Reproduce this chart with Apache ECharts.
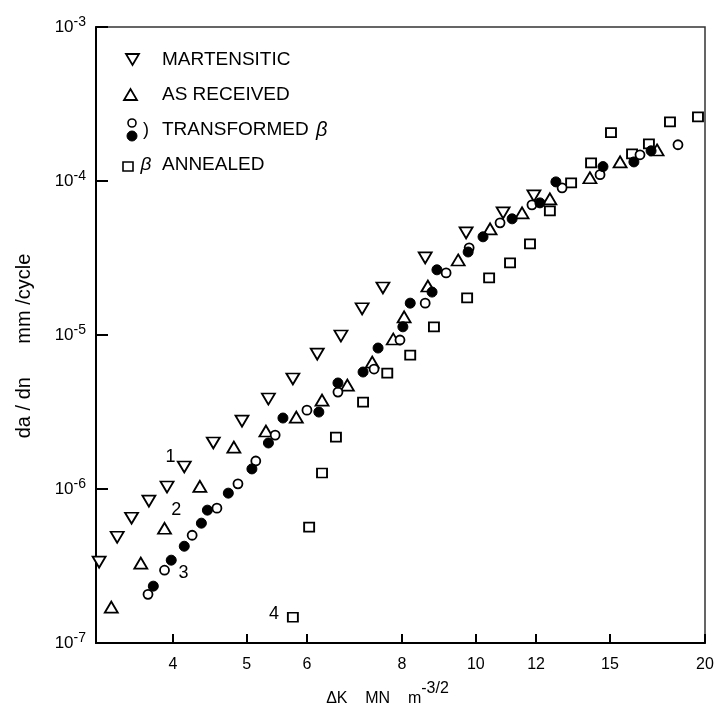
<!DOCTYPE html>
<html>
<head>
<meta charset="utf-8">
<script src="https://cdn.jsdelivr.net/npm/echarts@6/dist/echarts.min.js"></script>
<style>
html,body{margin:0;padding:0;background:#fff;}
#c{width:718px;height:708px;}
</style>
</head>
<body>
<div id="c"></div>
<script>
// ---- data (ΔK in MN m^-3/2, da/dn in mm/cycle) ----
const martensiticK = [3.20,3.38,3.53,3.72,3.93,4.14,4.52,4.93,5.34,5.75,6.19,6.65,7.09,7.55,8.58,9.71,10.86,11.92];
const martensiticRate = [3.35e-7,4.86e-7,6.46e-7,8.34e-7,1.03e-6,1.39e-6,1.99e-6,2.76e-6,3.84e-6,5.18e-6,7.52e-6,9.85e-6,1.48e-5,2.02e-5,3.17e-5,4.60e-5,6.21e-5,8.01e-5];

const asReceivedK = [3.32,3.63,3.90,4.34,4.81,5.30,5.81,6.28,6.78,7.31,7.79,8.05,8.65,9.48,10.44,11.50,12.51,14.12,15.47,17.30];
const asReceivedRate = [1.71e-7,3.30e-7,5.56e-7,1.04e-6,1.87e-6,2.38e-6,2.93e-6,3.78e-6,4.73e-6,6.67e-6,9.42e-6,1.31e-5,2.08e-5,3.07e-5,4.89e-5,6.21e-5,7.66e-5,1.05e-4,1.33e-4,1.59e-4];

const transformedOpenK = [3.71,3.90,4.24,4.57,4.87,5.14,5.45,6.00,6.59,7.35,7.95,8.58,9.14,9.80,10.76,11.85,12.98,14.56,16.43,18.43];
const transformedOpenRate = [2.07e-7,2.97e-7,5.01e-7,7.51e-7,1.08e-6,1.52e-6,2.24e-6,3.25e-6,4.26e-6,6.01e-6,9.28e-6,1.61e-5,2.53e-5,3.68e-5,5.35e-5,7.00e-5,9.03e-5,1.10e-4,1.48e-4,1.72e-4];

const transformedFilledK = [3.77,3.98,4.14,4.36,4.44,4.73,5.08,5.34,5.58,6.22,6.59,7.11,7.44,8.02,8.20,8.76,8.89,9.77,10.22,11.16,12.14,12.74,14.69,16.13,16.99];
const transformedFilledRate = [2.34e-7,3.45e-7,4.25e-7,6.00e-7,7.29e-7,9.40e-7,1.35e-6,1.99e-6,2.89e-6,3.16e-6,4.88e-6,5.75e-6,8.23e-6,1.13e-5,1.61e-5,1.90e-5,2.65e-5,3.46e-5,4.34e-5,5.68e-5,7.21e-5,9.87e-5,1.24e-4,1.33e-4,1.57e-4];

const annealedK = [5.75,6.04,6.28,6.55,7.11,7.65,8.20,8.81,9.74,10.41,11.09,11.78,12.51,13.34,14.17,15.05,16.04,16.88,17.99,19.58];
const annealedRate = [1.47e-7,5.65e-7,1.27e-6,2.17e-6,3.67e-6,5.66e-6,7.41e-6,1.13e-5,1.74e-5,2.35e-5,2.94e-5,3.90e-5,6.40e-5,9.73e-5,1.31e-4,2.06e-4,1.50e-4,1.74e-4,2.42e-4,2.61e-4];

// curve number annotations
const annoK = [3.97,4.04,4.13,5.43];
const annoRate = [1.61e-6,7.29e-7,2.84e-7,1.54e-7];
const annoText = ['1','2','3','4'];

// ticks
const xTickValues = [4,5,6,8,10,12,15,20];
const xTickLabels = ['4','5','6','8','10','12','15','20'];
const yTickValues = [1e-7,1e-6,1e-5,1e-4,1e-3];
const yTickExponents = ['-7','-6','-5','-4','-3'];

// legend
const legendNames = ['MARTENSITIC','AS RECEIVED','TRANSFORMED','ANNEALED'];

const FONT = '"Liberation Sans", Arial, sans-serif';
const INK = '#000';

function pairs(k, r) { return k.map((v, i) => [v, r[i]]); }
function nearestIdx(arr, v) {
  let best = -1, bd = 1e9;
  arr.forEach((t, i) => { const d = Math.abs(Math.log10(t) - Math.log10(v)); if (d < bd) { bd = d; best = i; } });
  return bd < 1e-4 ? best : -1;
}

const openStyle = { color: '#fff', borderColor: INK, borderWidth: 1.8, opacity: 1 };

const chart = echarts.init(document.getElementById('c'));
chart.setOption({
  animation: false,
  backgroundColor: '#fff',
  grid: { left: 96, right: 13, top: 27, bottom: 65, outerBoundsMode: 'none', containLabel: false,
          show: true, borderColor: '#333', borderWidth: 1.5 },
  xAxis: {
    type: 'log', min: 3.17, max: 20,
    axisLine: { show: true, lineStyle: { color: INK, width: 2 } },
    axisTick: { show: true, inside: true, length: 9, lineStyle: { color: INK, width: 2 }, customValues: xTickValues },
    minorTick: { show: false },
    splitLine: { show: false },
    axisLabel: {
      customValues: xTickValues,
      formatter: v => { const i = nearestIdx(xTickValues, v); return i >= 0 ? xTickLabels[i] : ''; },
      color: INK, fontSize: 16, fontFamily: FONT, margin: 14
    },
    name: '{a|ΔK    MN    m}{s|-3/2}',
    nameLocation: 'middle', nameGap: 38,
    nameTextStyle: {
      padding: [0, 26, 0, 0],
      rich: {
        a: { fontSize: 16, fontFamily: FONT, color: INK, lineHeight: 26, verticalAlign: 'bottom' },
        s: { fontSize: 16, fontFamily: FONT, color: INK, lineHeight: 16, verticalAlign: 'top' }
      }
    }
  },
  yAxis: {
    type: 'log', min: 1e-7, max: 1e-3,
    axisLine: { show: true, lineStyle: { color: INK, width: 2 } },
    axisTick: { show: true, inside: true, length: 12, lineStyle: { color: INK, width: 2 }, customValues: yTickValues },
    minorTick: { show: false },
    splitLine: { show: false },
    axisLabel: {
      customValues: yTickValues,
      formatter: v => { const i = nearestIdx(yTickValues, v); return i >= 0 ? '{b|10}{s|' + yTickExponents[i] + '}' : ''; },
      margin: 10,
      rich: {
        b: { fontSize: 17, fontFamily: FONT, color: INK, lineHeight: 24 },
        s: { fontSize: 14, fontFamily: FONT, color: INK, lineHeight: 14, verticalAlign: 'top' }
      }
    },
    name: 'da / dn      mm /cycle',
    nameLocation: 'middle', nameGap: 62,
    nameTextStyle: { fontSize: 20, fontFamily: FONT, color: INK, padding: [0, 22, 0, 0] }
  },
  series: [
    { name: 'ANNEALED', type: 'scatter', symbol: 'rect', symbolSize: [10, 9],
      itemStyle: openStyle, data: pairs(annealedK, annealedRate) },
    { name: 'MARTENSITIC', type: 'scatter', symbol: 'triangle', symbolRotate: 180, symbolSize: [13, 11],
      itemStyle: openStyle, data: pairs(martensiticK, martensiticRate) },
    { name: 'AS RECEIVED', type: 'scatter', symbol: 'triangle', symbolSize: [13, 11],
      itemStyle: openStyle, data: pairs(asReceivedK, asReceivedRate) },
    { name: 'TRANSFORMED open', type: 'scatter', symbol: 'circle', symbolSize: 9,
      itemStyle: openStyle, data: pairs(transformedOpenK, transformedOpenRate) },
    { name: 'TRANSFORMED filled', type: 'scatter', symbol: 'circle', symbolSize: 10,
      itemStyle: { color: INK, borderColor: INK, borderWidth: 1, opacity: 1 }, data: pairs(transformedFilledK, transformedFilledRate) },
    { name: 'curve numbers', type: 'scatter', symbol: 'circle', symbolSize: 1,
      itemStyle: { color: 'rgba(0,0,0,0)', opacity: 1 }, silent: true,
      label: { show: true, position: 'inside', formatter: p => annoText[p.dataIndex],
               fontSize: 18, fontFamily: FONT, color: INK, opacity: 1 },
      data: pairs(annoK, annoRate) }
  ],
  graphic: [
    // legend symbols
    { type: 'polygon', shape: { points: [[126, 54], [139, 54], [132.5, 65]] }, style: { fill: '#fff', stroke: INK, lineWidth: 1.8 } },
    { type: 'polygon', shape: { points: [[124, 100], [137, 100], [130.5, 89]] }, style: { fill: '#fff', stroke: INK, lineWidth: 1.8 } },
    { type: 'circle', shape: { cx: 132, cy: 123, r: 4 }, style: { fill: '#fff', stroke: INK, lineWidth: 1.6 } },
    { type: 'circle', shape: { cx: 132, cy: 136, r: 5 }, style: { fill: INK, stroke: INK, lineWidth: 1 } },
    { type: 'rect', shape: { x: 123, y: 162, width: 10, height: 9 }, style: { fill: '#fff', stroke: INK, lineWidth: 1.6 } },
    { type: 'text', x: 146, y: 130, style: { text: ')', font: '18px ' + FONT, fill: INK, align: 'center', verticalAlign: 'middle' } },
    { type: 'text', x: 146, y: 165, style: { text: 'β', font: 'italic 19px ' + FONT, fill: INK, align: 'center', verticalAlign: 'middle' } },
    // legend texts
    { type: 'text', x: 162, y: 60, style: { text: legendNames[0], font: '19px ' + FONT, fill: INK, verticalAlign: 'middle' } },
    { type: 'text', x: 162, y: 95, style: { text: legendNames[1], font: '19px ' + FONT, fill: INK, verticalAlign: 'middle' } },
    { type: 'text', x: 162, y: 130, style: { text: legendNames[2], font: '19px ' + FONT, fill: INK, verticalAlign: 'middle' } },
    { type: 'text', x: 316, y: 130, style: { text: 'β', font: 'italic 20px ' + FONT, fill: INK, verticalAlign: 'middle' } },
    { type: 'text', x: 162, y: 165, style: { text: legendNames[3], font: '19px ' + FONT, fill: INK, verticalAlign: 'middle' } }
  ]
});
</script>
</body>
</html>
